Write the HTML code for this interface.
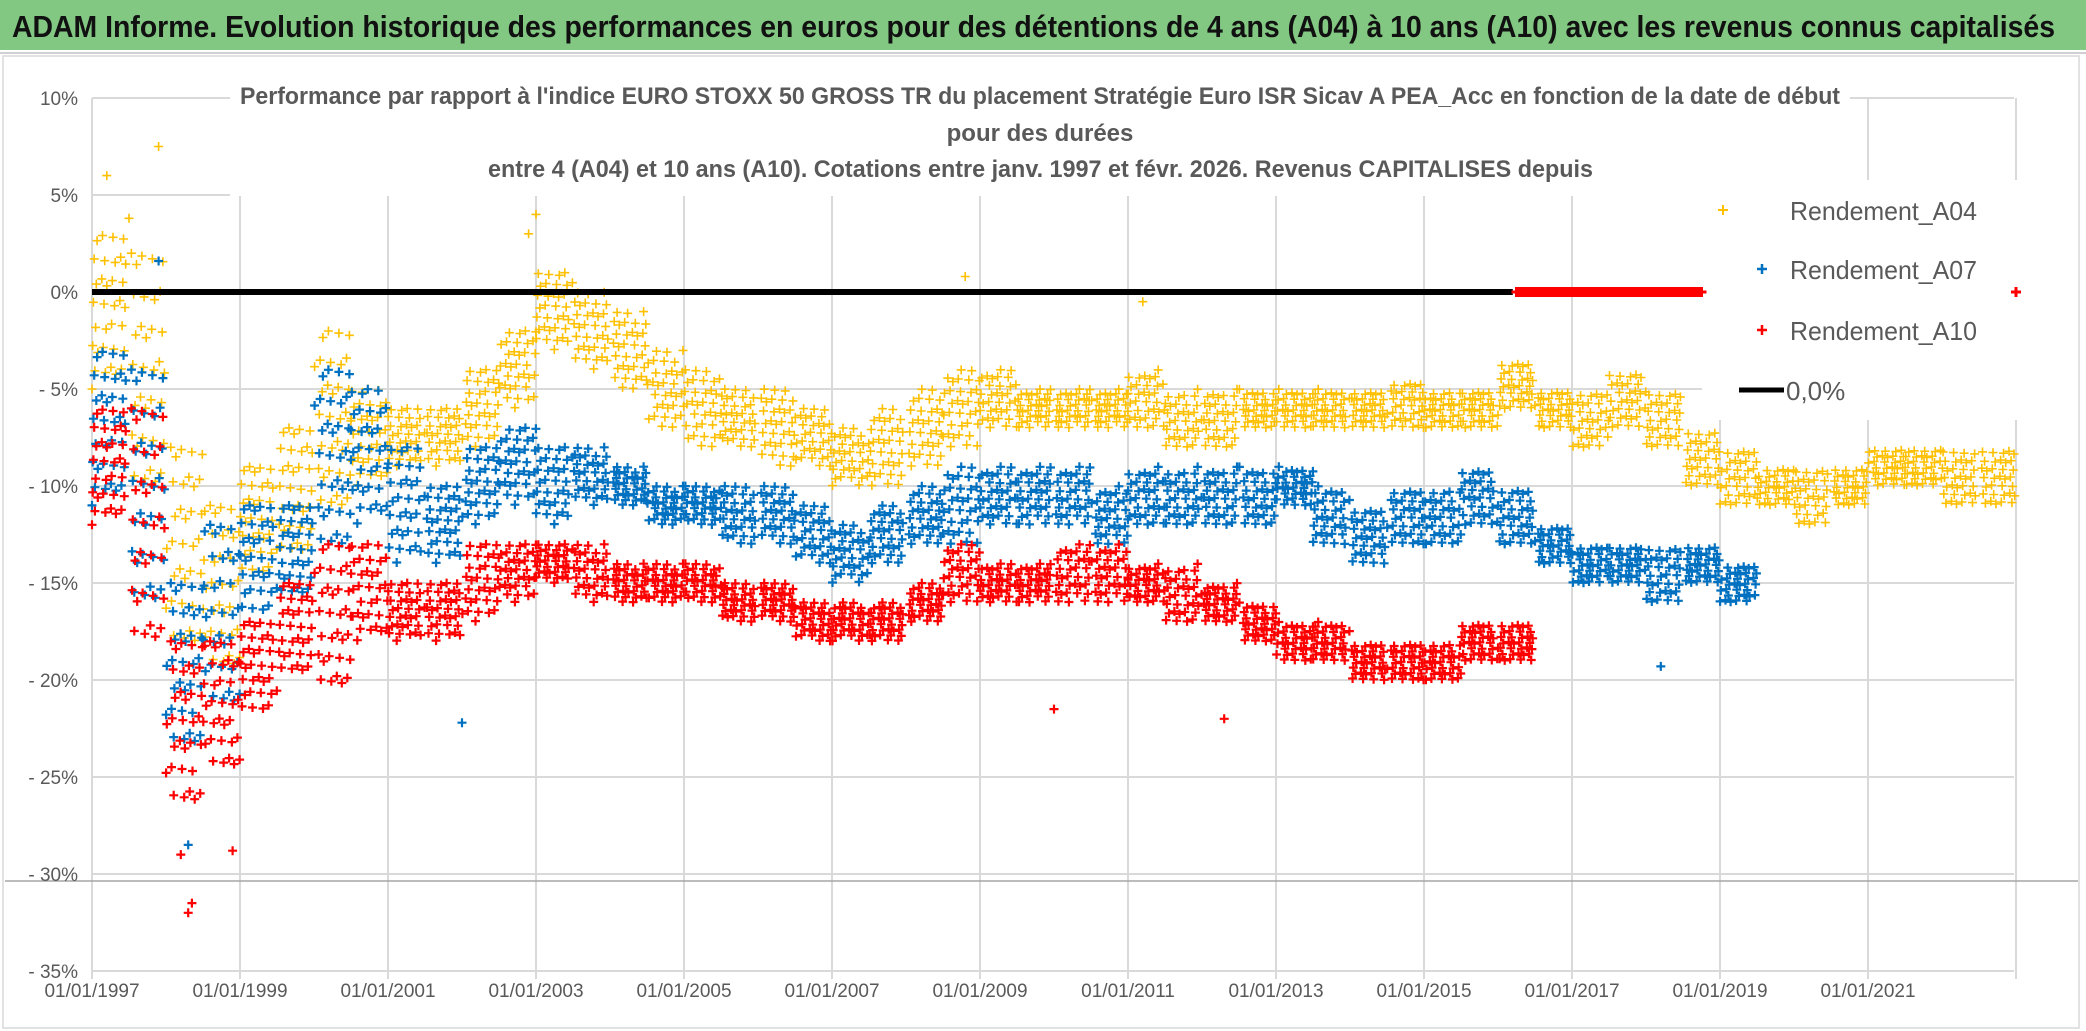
<!DOCTYPE html>
<html><head><meta charset="utf-8"><style>
html,body{margin:0;padding:0;background:#fff;}
svg{display:block;font-family:"Liberation Sans",sans-serif;}
</style></head><body>
<svg id="chart" width="2086" height="1031" viewBox="0 0 2086 1031">
  <rect x="0" y="0" width="2086" height="1031" fill="#fff"/>
  <rect x="0" y="0" width="2086" height="50" fill="#82C882"/>
  <text x="12" y="37" font-size="31" font-weight="bold" fill="#111" textLength="2043" lengthAdjust="spacingAndGlyphs">ADAM Informe. Evolution historique des performances en euros pour des détentions de 4 ans (A04) à 10 ans (A10) avec les revenus connus capitalisés</text>
  <line x1="0" y1="53" x2="2086" y2="53" stroke="#d0d0d0" stroke-width="2"/>
  <rect x="3" y="56" width="2076" height="972" fill="none" stroke="#d9d9d9" stroke-width="1.5"/>
  <g id="grid"></g>
  <g id="yaxis"></g>
  <g id="xaxis"></g>
  <rect x="230" y="72" width="1620" height="124" fill="#fff"/>
  <rect x="1702" y="180" width="372" height="240" fill="#fff"/>
  <g fill="#595959" font-weight="bold" font-size="24">
    <text x="240" y="104" textLength="1600" lengthAdjust="spacingAndGlyphs">Performance par rapport à l'indice EURO STOXX 50 GROSS TR  du placement Stratégie Euro ISR Sicav A PEA_Acc en fonction de la date de début</text>
    <text x="1040" y="141" text-anchor="middle">pour des durées</text>
    <text x="488" y="177" textLength="1105" lengthAdjust="spacingAndGlyphs">entre 4 (A04) et 10 ans (A10). Cotations entre janv. 1997 et févr. 2026. Revenus CAPITALISES depuis</text>
  </g>
  <g id="series"></g>
  <g id="legend" font-size="26" fill="#595959">
    <path d="M1718 210h10M1723 205v10" stroke="#FFC000" stroke-width="2"/>
    <text x="1790" y="220" textLength="187" lengthAdjust="spacingAndGlyphs">Rendement_A04</text>
    <path d="M1757 269h10M1762 264v10" stroke="#0070C0" stroke-width="2.5"/>
    <text x="1790" y="279" textLength="187" lengthAdjust="spacingAndGlyphs">Rendement_A07</text>
    <path d="M1757 330h10M1762 325v10" stroke="#FF0000" stroke-width="2.5"/>
    <text x="1790" y="340" textLength="187" lengthAdjust="spacingAndGlyphs">Rendement_A10</text>
    <line x1="1739" y1="390" x2="1784" y2="390" stroke="#000" stroke-width="5"/>
    <text x="1786" y="400">0,0%</text>
  </g>
</svg>
<script>
// ---- data (percent values, semi-annual periods) ----
const xTickYears = [1997,1999,2001,2003,2005,2007,2009,2011,2013,2015,2017,2019,2021];
const xTickLabels = ["01/01/1997","01/01/1999","01/01/2001","01/01/2003","01/01/2005","01/01/2007","01/01/2009","01/01/2011","01/01/2013","01/01/2015","01/01/2017","01/01/2019","01/01/2021"];
const yTicks = [10,5,0,-5,-10,-15,-20,-25,-30,-35];
const yTickLabels = ["10%","5%","0%","- 5%","- 10%","- 15%","- 20%","- 25%","- 30%","- 35%"];
const a04Start = 1997.0;
const a04Lo = [-5,-11,-19,-20,-15,-14,-12,-10,-9,-9,-8,-6,-3,-4,-5,-7,-8,-8,-9,-9,-10,-10,-9,-8,-7,-7,-7,-7,-7,-8,-8,-7,-7,-7,-7,-7,-7,-7,-6,-7,-8,-7,-8,-10,-11,-11,-12,-11,-10,-10,-11,-11];
const a04Hi = [3,2,-8,-11,-9,-7,-2,-5,-6,-6,-4,-2,1,0,-1,-3,-4,-5,-5,-6,-7,-6,-5,-4,-4,-5,-5,-5,-4,-5,-5,-5,-5,-5,-5,-4.5,-5,-5,-3.5,-5,-5,-4,-5,-7,-8,-9,-9,-9,-8,-8,-8,-8];
const a07Start = 1997.0;
const a07Lo = [-11,-17,-24,-22,-17,-16,-14,-12,-14,-14,-12,-11,-12,-11,-11,-12,-12,-13,-13,-14,-15,-14,-13,-13,-12,-12,-12,-13,-12,-12,-12,-12,-11,-13,-14,-13,-13,-12,-13,-14,-15,-15,-16,-15,-16];
const a07Hi = [-3,-4,-15,-12,-11,-11,-4,-5,-8,-10,-8,-7,-8,-8,-9,-10,-10,-10,-10,-11,-12,-11,-10,-9,-9,-9,-9,-10,-9,-9,-9,-9,-9,-10,-11,-10,-10,-9,-10,-12,-13,-13,-13,-13,-14];
const a10Start = 1997.0;
const a10Lo = [-12,-19,-27,-25,-22,-20,-21,-18,-18,-18,-17,-16,-15,-16,-16,-16,-16,-17,-17,-18,-18,-18,-17,-16,-16,-16,-16,-16,-16,-17,-17,-18,-19,-19,-20,-20,-20,-19,-19];
const a10Hi = [-6,-6,-18,-18,-17,-15,-13,-13,-15,-15,-13,-13,-13,-13,-14,-14,-14,-15,-15,-16,-16,-16,-15,-13,-14,-14,-13,-13,-14,-14,-15,-16,-17,-17,-18,-18,-18,-17,-17];
const a04OutX = [1997.2,1997.9,1997.5,2003.0,2002.9,2008.8,2011.2];
const a04OutY = [6,7.5,3.8,4,3,0.8,-0.5];
const a07OutX = [1997.9,2002.0,2018.2,1998.3];
const a07OutY = [1.6,-22.2,-19.3,-28.5];
const a10OutX = [1998.3,1998.35,1998.2,1998.9,2012.3,2010.0];
const a10OutY = [-32,-31.5,-29,-28.8,-22,-21.5];
const a10ZeroRange = [2016.25,2018.75];
const a10ZeroExtraX = [2023.0];
const zeroLineRange = [1997.0,2016.2];

// ---- axes ----
const NS = "http://www.w3.org/2000/svg";
function xs(year){ return 92 + (year - 1997) * 74; }
function ys(v){ return 292 - v * 19.4; }
function mk(tag, attrs, parent){ const e = document.createElementNS(NS, tag); for (const k in attrs) e.setAttribute(k, attrs[k]); parent.appendChild(e); return e; }

const grid = document.getElementById('grid');
yTicks.forEach((t,i)=>{
  const l = mk('line',{x1:92,x2:2014,y1:ys(t),y2:ys(t),stroke:'#d9d9d9','stroke-width':2},grid);
  
  
});
const xg = xTickYears.concat([2023]);
xg.forEach(yr=>{
  const l = mk('line',{x1:xs(yr),x2:xs(yr),y1:ys(10),y2:ys(-35)+8,stroke:'#d9d9d9','stroke-width':2},grid);
  
  
});
const extra = mk('line',{x1:5,x2:2078,y1:881,y2:881,stroke:'#a6a6a6','stroke-width':1.5},grid);



const yax = document.getElementById('yaxis');
yTicks.forEach((t,i)=>{
  const tx = mk('text',{x:78,y:ys(t)+7,'text-anchor':'end','font-size':19,fill:'#595959'},yax);
  tx.textContent = yTickLabels[i];
  
  
});
const xax = document.getElementById('xaxis');
xTickYears.forEach((yr,i)=>{
  const tx = mk('text',{x:xs(yr),y:997,'text-anchor':'middle','font-size':19,fill:'#595959'},xax);
  tx.textContent = xTickLabels[i];
  
  
});

// ---- series ----
const ser = document.getElementById('series');
function plus(x,y,s){ return 'M'+(x-s).toFixed(1)+' '+y.toFixed(1)+'h'+(2*s)+'M'+x.toFixed(1)+' '+(y-s).toFixed(1)+'v'+(2*s); }
function frac(v){ return v - Math.floor(v); }
function drawSeries(start, lo, hi, outX, outY, color, sw, name){
  let d = '';
  const n = 34;
  for (let p=0; p<lo.length; p++){
    for (let i=0; i<n; i++){
      const t = start + p*0.5 + 0.5*frac(i*0.7548777 + p*0.31);
      const f = frac(i*0.5698403 + p*0.43);
      const v = lo[p] + (hi[p]-lo[p]) * f;
      d += plus(xs(t), ys(v), 4.5);
    }
  }
  for (let k=0; k<outX.length; k++) d += plus(xs(outX[k]), ys(outY[k]), 4.5);
  const path = mk('path',{d:d,stroke:color,'stroke-width':sw,fill:'none'},ser);
  
  
}
drawSeries(a04Start,a04Lo,a04Hi,a04OutX,a04OutY,'#FFC000',1.6,'series-a04');
drawSeries(a07Start,a07Lo,a07Hi,a07OutX,a07OutY,'#0070C0',2.2,'series-a07');
drawSeries(a10Start,a10Lo,a10Hi,a10OutX,a10OutY,'#FF0000',2.2,'series-a10');

const zl = mk('line',{x1:xs(zeroLineRange[0]),x2:xs(zeroLineRange[1]),y1:ys(0),y2:ys(0),stroke:'#000','stroke-width':6},ser);


let zd = '';
for (let t=a10ZeroRange[0]; t<=a10ZeroRange[1]; t+=0.02) zd += plus(xs(t), ys(0), 5);
a10ZeroExtraX.forEach(t=>{ zd += plus(xs(t), ys(0), 5); });
const zp = mk('path',{d:zd,stroke:'#FF0000','stroke-width':3,fill:'none'},ser);


</script>
</body></html>
